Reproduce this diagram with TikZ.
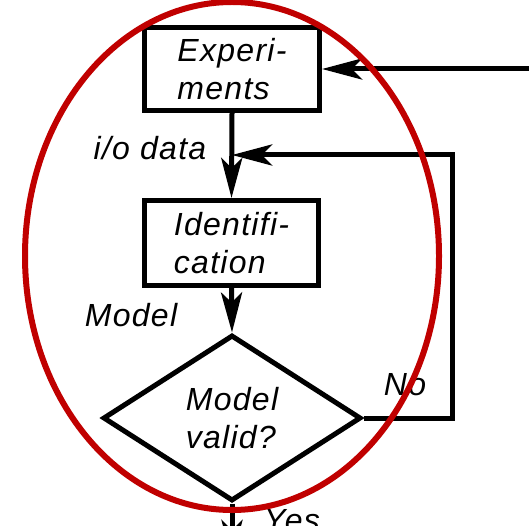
\documentclass[tikz,border=0pt]{standalone}
\usepackage{fontspec}
\setmainfont[LetterSpace=4]{Liberation Sans}
\usetikzlibrary{shapes.geometric,arrows.meta}
\definecolor{ringred}{RGB}{192,0,0}
\begin{document}
\begin{tikzpicture}[x=1pt,y=-1pt,
  every node/.style={font=\itshape\fontsize{32}{38}\selectfont},
  flow/.style={line width=5pt,-{Stealth[length=40pt,width=21pt,inset=10pt]}},
  plain/.style={line width=5pt},
  stepbox/.style={draw,line width=5pt,align=left,inner sep=0pt},
  decision/.style={draw,line width=5pt,shape=diamond,align=left,inner sep=0pt,
    minimum width=258pt,minimum height=166pt},
  lbl/.style={inner sep=0pt}]
  \path[use as bounding box] (0,0) rectangle (529,526);
  \clip (0,0) rectangle (529,526);

  % process boxes and the decision
  \node[stepbox,minimum width=175pt,minimum height=83pt] (exp) at (232,69) {Experi-\\ments};
  \node[stepbox,minimum width=174pt,minimum height=85pt] (ident) at (231.5,243) {Identifi-\\cation};
  \node[decision] (valid) at (232,418) {Model\\valid?};

  % junction points of the connectors
  \coordinate (inlet) at (529,69);
  \coordinate (join) at (232,155);
  \coordinate (corner1) at (452,418);
  \coordinate (corner2) at (452,155);
  \coordinate (out) at (232,560);

  % connectors
  \draw[flow] (inlet) -- (exp.east);
  \draw[flow] (exp.south) -- (ident.north);
  \draw[flow] (ident.south) -- (valid.north);
  \draw[plain] (valid.east) -- (corner1) -- (corner2) -- ([xshift=20pt]join);
  \draw[flow] (corner2) -- (join);
  \draw[flow] (valid.south) -- (out);

  % connector labels
  \node[lbl] (io) at (150,148) {i/o data};
  \node[lbl] (mdl) at (131,315) {Model};
  \node[lbl] (no) at (405,385) {No};
  \node[lbl] (yes) at (292,521) {Yes};

  % highlight ring
  \draw[ringred,line width=6pt] (232,256) ellipse [x radius=207pt,y radius=254pt];
\end{tikzpicture}
\end{document}
